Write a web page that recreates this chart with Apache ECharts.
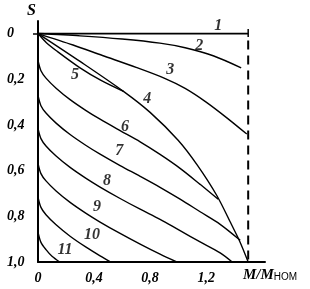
<!DOCTYPE html>
<html>
<head>
<meta charset="utf-8">
<script src="https://cdn.jsdelivr.net/npm/echarts@6/dist/echarts.min.js"></script>
<style>html,body{margin:0;padding:0;background:#fff}#c{width:310px;height:289px}</style>
</head>
<body>
<div id="c"></div>
<script>
// Values: [M/Mnom, S]
const curve1 = [[0,0],[1.5,0]];
const curve2 = [[0,0],[0.3,0.01],[0.6,0.024],[0.87,0.042],[1.05,0.062],[1.25,0.097],[1.45,0.15]];
const curve3 = [[0,0],[0.25,0.05],[0.46,0.096],[0.7,0.148],[0.9,0.195],[1.05,0.24],[1.2,0.3],[1.35,0.37],[1.49,0.44]];
const curve4 = [[0,0],[0.3,0.122],[0.61,0.253],[0.8,0.345],[1.0,0.467],[1.137,0.576],[1.277,0.71],[1.38,0.835],[1.44,0.91],[1.5,1.0]];
const curve5 = [[0,0],[0.06,0.04],[0.129,0.074],[0.3,0.15],[0.45,0.205],[0.61,0.253]];
const curve6 = [[0,0.118],[0.021,0.163],[0.057,0.195],[0.129,0.239],[0.229,0.289],[0.343,0.337],[0.443,0.375],[0.586,0.425],[0.729,0.474],[0.871,0.529],[1.014,0.59],[1.157,0.66],[1.286,0.725]];
const curve7 = [[0,0.271],[0.021,0.316],[0.057,0.348],[0.129,0.392],[0.229,0.442],[0.343,0.49],[0.443,0.528],[0.586,0.578],[0.729,0.625],[0.871,0.673],[1.014,0.725],[1.157,0.78],[1.3,0.835],[1.443,0.905]];
const curve8 = [[0,0.415],[0.021,0.46],[0.057,0.492],[0.129,0.536],[0.229,0.586],[0.343,0.634],[0.443,0.672],[0.586,0.722],[0.729,0.769],[0.871,0.813],[1.014,0.863],[1.157,0.912],[1.3,0.96],[1.386,1.0]];
const curve9 = [[0,0.568],[0.021,0.613],[0.057,0.645],[0.129,0.689],[0.229,0.739],[0.343,0.787],[0.443,0.825],[0.586,0.875],[0.729,0.922],[0.871,0.966],[0.99,1.0]];
const curve10 = [[0,0.716],[0.021,0.761],[0.057,0.793],[0.129,0.837],[0.229,0.887],[0.343,0.935],[0.443,0.973],[0.52,1.0]];
const curve11 = [[0,0.869],[0.021,0.914],[0.057,0.946],[0.1,0.975],[0.155,1.0]];
const limitLine = [[1.5,0.03],[1.5,1.0]];
const endTick = [[1.5,-0.02],[1.5,0.015]];
const curveLabels = [
  [1.286,-0.035,'1'],[1.15,0.055,'2'],[0.943,0.16,'3'],[0.779,0.286,'4'],
  [0.264,0.181,'5'],[0.621,0.41,'6'],[0.579,0.515,'7'],[0.493,0.646,'8'],
  [0.421,0.76,'9'],[0.386,0.882,'10'],[0.193,0.948,'11']
];
const xTickValues = [0,0.4,0.8,1.2];
const yTickValues = [0,0.2,0.4,0.6,0.8,1.0];

const FONT = 'Liberation Serif';
const fmt = v => v === 0 ? '0' : v.toFixed(1).replace('.', ',');
const curves = [curve1,curve2,curve3,curve4,curve5,curve6,curve7,curve8,curve9,curve10,curve11];

const series = curves.map((d, i) => ({
  type: 'line', data: d, symbol: 'none', smooth: 0.3,
  lineStyle: {color: '#000', width: i === 0 ? 1.8 : 1.4}, silent: true
}));
series.push({type:'line', data: limitLine, symbol:'none', lineStyle:{color:'#000', width:2, type:[9,6]}});
series.push({type:'line', data: endTick, symbol:'none', lineStyle:{color:'#000', width:1.5}});
series.push({
  type:'scatter', data: curveLabels, symbolSize: 0,
  label:{show:true, position:'inside', formatter: p => p.data[2],
    fontFamily: FONT, fontStyle:'italic', fontWeight:'bold', fontSize:16, color:'#000'}
});

const chart = echarts.init(document.getElementById('c'), null, {renderer:'canvas'});
chart.setOption({
  animation: false,
  backgroundColor: '#fff',
  grid: {left: 38, right: 45, top: 21, bottom: 27, containLabel: false, outerBoundsMode: 'none'},
  xAxis: {
    type: 'value', min: 0, max: 1.62,
    axisLine: {show: true, onZero: false, lineStyle: {color:'#000', width: 2}},
    axisTick: {show: false},
    splitLine: {show: false},
    axisLabel: {customValues: xTickValues, formatter: fmt, margin: 9,
      fontFamily: FONT, fontStyle:'italic', fontWeight:'bold', fontSize: 14, color:'#000'},
    name: '{a|M/M}{b|НОМ}', nameLocation: 'end', nameGap: -22,
    nameTextStyle: {align:'left', verticalAlign:'top', padding:[6,0,0,0],
      rich: {a:{fontFamily: FONT, fontStyle:'italic', fontWeight:'bold', fontSize:15, color:'#000'},
             b:{fontFamily:'Liberation Sans', fontSize:10, color:'#000', padding:[4,0,0,0]}}}
  },
  yAxis: {
    type: 'value', inverse: true, min: -0.055, max: 1.0,
    axisLine: {show: true, onZero: false, lineStyle: {color:'#000', width: 2}},
    axisTick: {show: true, customValues: [0], length: 5, lineStyle:{color:'#000', width:1.5}},
    splitLine: {show: false},
    axisLabel: {customValues: yTickValues, formatter: fmt, align: 'left', margin: 31,
      fontFamily: FONT, fontStyle:'italic', fontWeight:'bold', fontSize: 14, color:'#000'},
    name: 'S', nameLocation: 'start', nameGap: 2,
    nameTextStyle: {fontFamily: FONT, fontStyle:'italic', fontWeight:'bold', fontSize: 16, color:'#000', align:'right', padding:[0,2,0,0]}
  },
  series
});
</script>
</body>
</html>
